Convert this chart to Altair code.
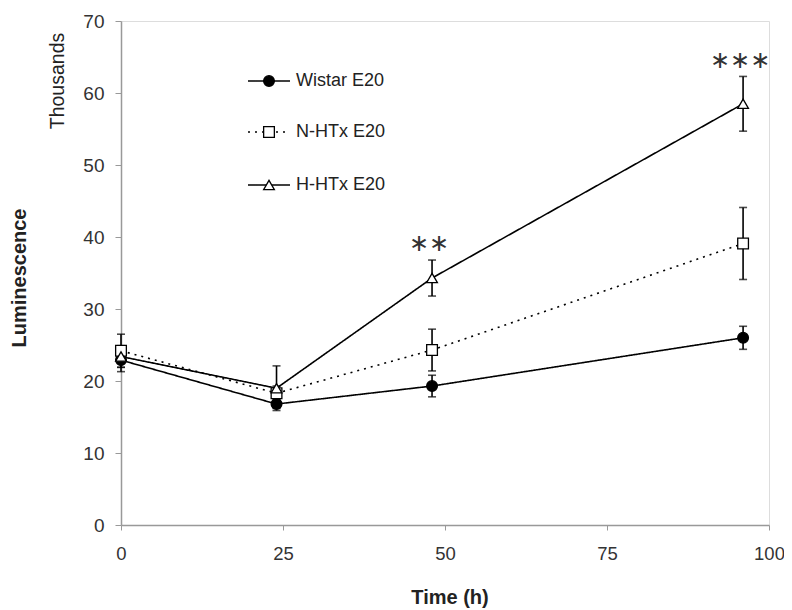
import altair as alt
import pandas as pd

# ---- data ----
time_h = [0, 24, 48, 96]
series_names = ["Wistar E20", "N-HTx E20", "H-HTx E20"]
wistar = [22.9, 16.8, 19.3, 26.0]
wistar_err = [1.6, 0.6, 1.5, 1.6]
nhtx = [24.2, 18.3, 24.3, 39.1]
nhtx_err = [2.3, 1.0, 2.9, 5.0]
hhtx = [23.4, 19.0, 34.3, 58.5]
hhtx_err = [1.5, 3.1, 2.5, 3.8]
sig_time = [48, 96]
sig_value = [39.0, 64.5]
sig_label = ["∗∗", "∗∗∗"]
x_ticks = [0, 25, 50, 75, 100]
y_ticks = [0, 10, 20, 30, 40, 50, 60, 70]

rows = []
for name, vals, errs in [(series_names[0], wistar, wistar_err),
                         (series_names[1], nhtx, nhtx_err),
                         (series_names[2], hhtx, hhtx_err)]:
    for t, v, e in zip(time_h, vals, errs):
        rows.append({"series": name, "time": t, "value": v, "lo": v - e, "hi": v + e})
df = pd.DataFrame(rows)
sig_df = pd.DataFrame({"time": sig_time, "value": sig_value, "label": sig_label})

FONT = "Liberation Sans"
W, H = 648, 504

xs = alt.Scale(domain=[0, 100], nice=False)
ys = alt.Scale(domain=[0, 70], nice=False)
shape_scale = alt.Scale(domain=series_names, range=["circle", "square", "triangle-up"])
fill_scale = alt.Scale(domain=series_names, range=["black", "white", "white"])
dash_scale = alt.Scale(domain=series_names, range=[[1, 0], [2, 5], [1, 0]])

x_axis = alt.Axis(values=x_ticks, title=None, labelFontSize=18.5, labelFont=FONT,
                  labelColor="#333", tickColor="#999", domainColor="#999",
                  tickSize=5, labelPadding=14, grid=False, domainWidth=1.5,
                  labelFlush=False)
y_axis = alt.Axis(values=y_ticks, title=None, labelFontSize=19, labelFont=FONT,
                  labelColor="#333", tickColor="#999", domainColor="#999",
                  tickSize=6, labelPadding=11, grid=False, domainWidth=1.5,
                  labelFlush=False)

X = alt.X("time:Q", scale=xs, axis=x_axis)
def Yq(field):
    return alt.Y(field, type="quantitative", scale=ys, axis=y_axis)

base = alt.Chart(df)

lines = base.mark_line(color="black", strokeWidth=1.6).encode(
    x=X, y=Yq("value"),
    strokeDash=alt.StrokeDash("series:N", scale=dash_scale, legend=None),
    detail="series:N",
)

err = base.mark_rule(color="black", strokeWidth=1.6).encode(
    x=X, y=Yq("lo"), y2="hi:Q"
)
cap_lo = base.mark_tick(color="black", thickness=1.6, size=8, orient="horizontal").encode(
    x=X, y=Yq("lo")
)
cap_hi = base.mark_tick(color="black", thickness=1.6, size=8, orient="horizontal").encode(
    x=X, y=Yq("hi")
)

points = base.mark_point(filled=False, stroke="black", strokeWidth=1.3, opacity=1).encode(
    x=X, y=Yq("value"),
    shape=alt.Shape("series:N", scale=shape_scale, legend=None),
    fill=alt.Fill("series:N", scale=fill_scale, legend=None),
    size=alt.value(115),
)

sig = alt.Chart(sig_df).mark_text(fontSize=24, font="DejaVu Sans", color="#333",
                                   baseline="middle", dx=-3).encode(
    x=X, y=Yq("value"), text="label:N"
)

# manual legend (upper left inside the plot)
leg_rows_y = [60, 111, 164]
leg_layers = []
for i, name in enumerate(series_names):
    ld = alt.Chart(pd.DataFrame({"series": [name]}))
    leg_layers.append(ld.mark_rule(color="black", strokeWidth=1.6).encode(
        x=alt.value(127), x2=alt.value(169), y=alt.value(leg_rows_y[i]),
        strokeDash=alt.StrokeDash("series:N", scale=dash_scale, legend=None),
    ))
    leg_layers.append(ld.mark_point(filled=False, stroke="black", strokeWidth=1.3, opacity=1).encode(
        x=alt.value(148), y=alt.value(leg_rows_y[i]),
        shape=alt.Shape("series:N", scale=shape_scale, legend=None),
        fill=alt.Fill("series:N", scale=fill_scale, legend=None),
        size=alt.value(115),
    ))
    leg_layers.append(ld.mark_text(align="left", baseline="middle", fontSize=18, font=FONT,
                                   color="#222").encode(
        x=alt.value(175), y=alt.value(leg_rows_y[i]), text="series:N"
    ))

one = alt.Chart(pd.DataFrame({"a": [0]}))
lum = one.mark_text(angle=270, fontSize=20, font=FONT, fontWeight="bold",
                    color="#222", baseline="middle").encode(
    x=alt.value(-101), y=alt.value(257), text=alt.value("Luminescence")
)
thou = one.mark_text(angle=270, fontSize=19.5, font=FONT,
                     color="#222", baseline="middle").encode(
    x=alt.value(-63), y=alt.value(60), text=alt.value("Thousands")
)
xtitle = one.mark_text(fontSize=20, font=FONT, fontWeight="bold",
                       color="#222", baseline="middle").encode(
    x=alt.value(329), y=alt.value(577), text=alt.value("Time (h)")
)

chart = alt.layer(
    lines, err, cap_lo, cap_hi, points, sig, *leg_layers, lum, thou, xtitle
).properties(
    width=W, height=H,
    autosize=alt.AutoSizeParams(type="none"),
    padding={"left": 113, "top": 13, "right": 15, "bottom": 85},
).configure_view(
    stroke="#999", strokeWidth=1.5
).configure(background="white")

chart.save("out.html", embed_options={"renderer": "svg", "actions": False})
